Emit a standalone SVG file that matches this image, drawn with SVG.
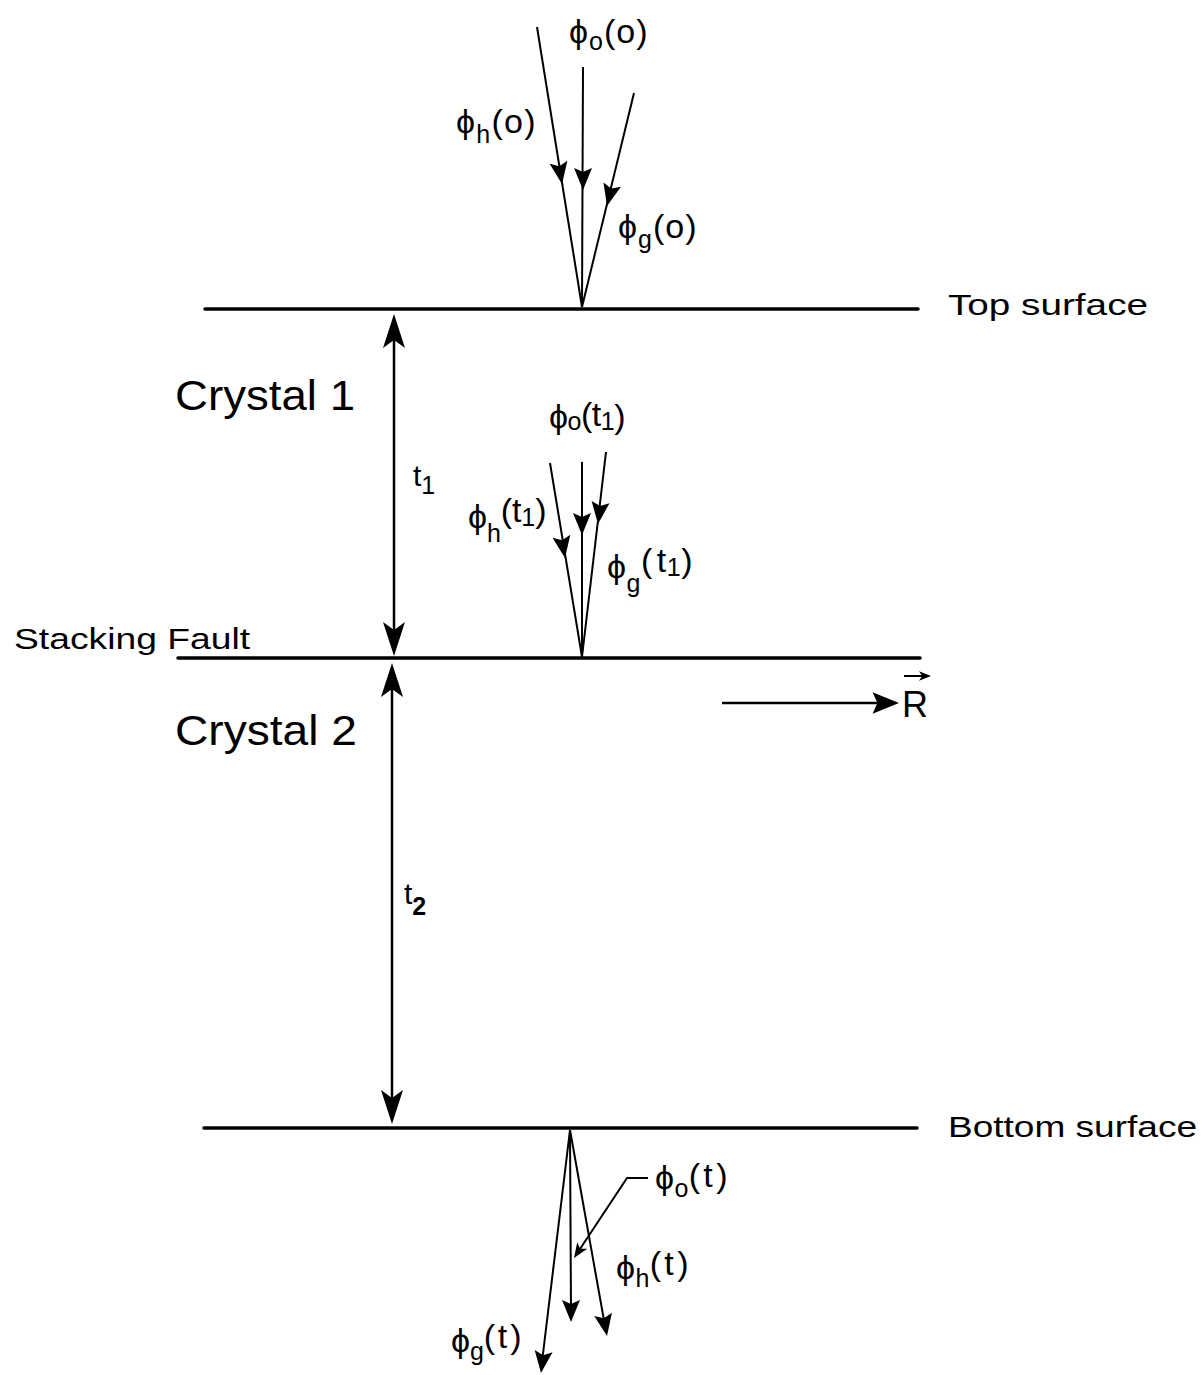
<svg xmlns="http://www.w3.org/2000/svg" width="1202" height="1375" viewBox="0 0 1202 1375">
<style>
.surf{stroke:#000;stroke-width:3.5;fill:none;stroke-linecap:round}
.ray{stroke:#000;stroke-width:2;fill:none}
.dim{stroke:#000;stroke-width:2.5;fill:none}
.ah{fill:#000}
text{font-family:"Liberation Sans","DejaVu Sans",sans-serif;fill:#000}
.lbl{font-size:30px}
.phi{font-size:34px;letter-spacing:1.5px}
.big{font-size:42px}
.sub{font-size:25px}
</style>
<defs>
<path id="ah" d="M0,0 L-22,-9 L-18,0 L-22,9 Z"/>
<path id="sah" d="M0,0 L-15,-6 L-11,0 L-15,6 Z"/>
<path id="bah" d="M0,0 L-34,-11 L-26,0 L-34,11 Z"/>
</defs>
<rect width="1202" height="1375" fill="#fff"/>

<g id="top-surface">
<line class="surf" x1="205" y1="309" x2="918" y2="309"/>
<text class="lbl" x="948" y="315" textLength="200" lengthAdjust="spacingAndGlyphs">Top surface</text>
</g>
<g id="stacking-fault">
<line class="surf" x1="178" y1="658" x2="920" y2="658"/>
<text class="lbl" x="14" y="649" textLength="236" lengthAdjust="spacingAndGlyphs">Stacking Fault</text>
</g>
<g id="bottom-surface">
<line class="surf" x1="204" y1="1128" x2="917" y2="1128"/>
<text class="lbl" x="948" y="1137" textLength="249" lengthAdjust="spacingAndGlyphs">Bottom surface</text>
</g>
<g id="crystal1"><text class="big" x="175" y="410" textLength="180" lengthAdjust="spacingAndGlyphs">Crystal 1</text></g>
<g id="crystal2"><text class="big" x="175" y="745" textLength="182" lengthAdjust="spacingAndGlyphs">Crystal 2</text></g>
<g id="t1"><text class="lbl" x="413" y="486">t<tspan class="sub" dy="8">1</tspan></text></g>
<g id="t2"><text class="lbl" x="404" y="904">t<tspan class="sub" dy="11" font-weight="bold">2</tspan></text></g>
<g id="R"><text font-size="36" x="902" y="717">R</text></g>

<g id="phi-o-0"><text class="phi" x="569" y="43" textLength="80">ϕ<tspan class="sub" dy="7">o</tspan><tspan dy="-7">(o)</tspan></text></g>
<g id="phi-h-0"><text class="phi" x="456" y="133" textLength="81">ϕ<tspan class="sub" dy="10">h</tspan><tspan dy="-10">(o)</tspan></text></g>
<g id="phi-g-0"><text class="phi" x="618" y="238" textLength="80">ϕ<tspan class="sub" dy="10">g</tspan><tspan dy="-10">(o)</tspan></text></g>

<g id="phi-o-t1"><text class="phi" x="549" y="428" textLength="78">ϕ<tspan class="sub" dy="2">o</tspan><tspan dy="-4">(t</tspan><tspan class="sub" dy="4">1</tspan><tspan dy="-2">)</tspan></text></g>
<g id="phi-h-t1"><text class="phi" x="468" y="528" textLength="80">ϕ<tspan class="sub" dy="14">h</tspan><tspan dy="-20">(t</tspan><tspan class="sub" dy="4">1</tspan><tspan dy="-4">)</tspan></text></g>
<g id="phi-g-t1"><text class="phi" x="607" y="578" textLength="87">ϕ<tspan class="sub" dy="14">g</tspan><tspan dy="-20">(</tspan><tspan dx="4">t</tspan><tspan class="sub" dy="4">1</tspan><tspan dy="-4">)</tspan></text></g>

<g id="phi-o-t"><text class="phi" x="655" y="1189" textLength="74">ϕ<tspan class="sub" dy="8">o</tspan><tspan dy="-10">(</tspan><tspan dx="3">t</tspan><tspan dx="3">)</tspan></text></g>
<g id="phi-h-t"><text class="phi" x="616" y="1279" textLength="74">ϕ<tspan class="sub" dy="8">h</tspan><tspan dy="-12">(</tspan><tspan dx="3">t</tspan><tspan dx="3">)</tspan></text></g>
<g id="phi-g-t"><text class="phi" x="451" y="1352" textLength="72">ϕ<tspan class="sub" dy="8">g</tspan><tspan dy="-12">(</tspan><tspan dx="3">t</tspan><tspan dx="3">)</tspan></text></g>

<g id="connectors">
<line class="dim" x1="394" y1="325" x2="394" y2="645"/>
<use href="#bah" class="ah" transform="translate(394,314) rotate(-90)"/>
<use href="#bah" class="ah" transform="translate(394,656) rotate(90)"/>
<line class="dim" x1="392" y1="675" x2="392" y2="1112"/>
<use href="#bah" class="ah" transform="translate(392,663) rotate(-90)"/>
<use href="#bah" class="ah" transform="translate(392,1124) rotate(90)"/>

<line class="ray" x1="537" y1="27" x2="582" y2="307"/>
<use href="#ah" class="ah" transform="translate(562,184) rotate(80.9)"/>
<line class="ray" x1="583" y1="67" x2="582" y2="307"/>
<use href="#ah" class="ah" transform="translate(583,190) rotate(90)"/>
<line class="ray" x1="634" y1="93" x2="582" y2="307"/>
<use href="#ah" class="ah" transform="translate(607,206) rotate(103.7)"/>

<line class="ray" x1="550" y1="463" x2="582" y2="657"/>
<use href="#ah" class="ah" transform="translate(565,558) rotate(80.6)"/>
<line class="ray" x1="582" y1="462" x2="582" y2="657"/>
<use href="#ah" class="ah" transform="translate(582,535) rotate(90)"/>
<line class="ray" x1="606" y1="452" x2="582" y2="657"/>
<use href="#ah" class="ah" transform="translate(598,524) rotate(96.7)"/>

<line class="ray" x1="570" y1="1130" x2="542" y2="1362"/>
<use href="#ah" class="ah" transform="translate(541,1373) rotate(96.8)"/>
<line class="ray" x1="570" y1="1130" x2="571" y2="1312"/>
<use href="#ah" class="ah" transform="translate(571,1322) rotate(90)"/>
<line class="ray" x1="570" y1="1130" x2="605" y2="1326"/>
<use href="#ah" class="ah" transform="translate(607,1336) rotate(79.8)"/>

<polyline class="ray" points="648,1178 627,1178 578,1252"/>
<use href="#sah" class="ah" transform="translate(574,1258) rotate(123.4)"/>

<line class="dim" x1="722" y1="703" x2="880" y2="703"/>
<use href="#ah" transform="translate(899,703) scale(1.2)"/>
<line class="ray" x1="904" y1="676" x2="925" y2="676"/>
<use href="#sah" transform="translate(931,676) scale(0.8)"/>
</g>
</svg>
